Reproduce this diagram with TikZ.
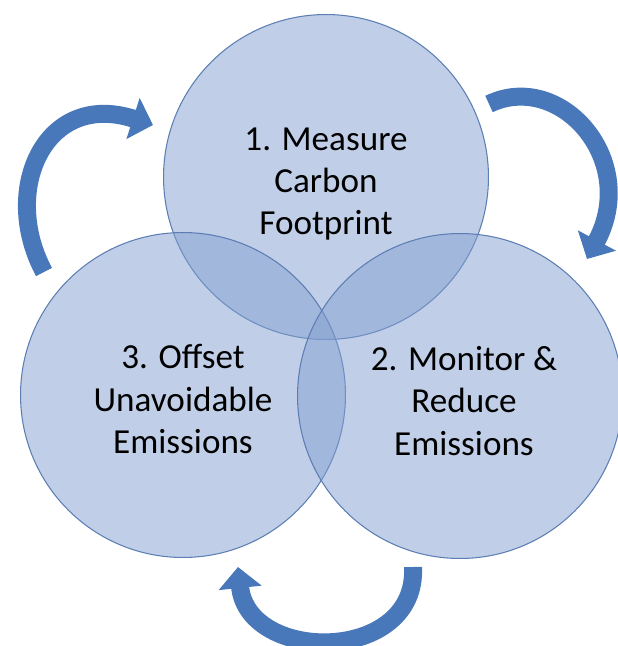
\documentclass[tikz,border=0pt]{standalone}
\usepackage{fontspec}
\setmainfont{Carlito}
\usetikzlibrary{arrows.meta}

\definecolor{ringfill}{RGB}{130,159,207}
\definecolor{ringline}{RGB}{92,126,180}
\definecolor{arrowblue}{RGB}{72,120,185}

\begin{document}
\begin{tikzpicture}[x=0.02cm, y=-0.02cm,
    ring/.style={circle, minimum size=6.5cm, inner sep=0pt,
        fill=ringfill, fill opacity=0.5, draw=ringline, line width=0.6pt},
    caption/.style={align=center, inner sep=0pt, font=\fontsize{20}{24}\selectfont},
    cyclearrow/.style={arrowblue, line width=0.36cm, line cap=butt,
        -{Triangle[length=0.42cm, width=0.84cm]}}]
    \useasboundingbox (0,0) rectangle (618,646);
    \node[ring] (measure) at (326,177) {};
    \node[ring] (offset)  at (183,395) {};
    \node[ring] (reduce)  at (460,396) {};
    \node[caption] (measuretxt) at ([yshift=-0.14cm]measure.center) {1. Measure\\Carbon\\Footprint};
    \node[caption] (offsettxt)  at ([yshift=-0.08cm]offset.center) {3. Offset\\Unavoidable\\Emissions};
    \node[caption] (reducetxt)  at ([xshift=0.08cm, yshift=-0.1cm]reduce.center) {2. Monitor \&\\Reduce\\Emissions};
    % bent arrows between the rings
    \coordinate (lt) at (44,272);
    \coordinate (lh) at (153,125);
    \coordinate (rt) at (489,104);
    \coordinate (rh) at (587,259);
    \coordinate (bt) at (413,567);
    \coordinate (bh) at (238,567);
    \draw[cyclearrow] (lt) .. controls (0,190) and (45,90) .. (lh);
    \draw[cyclearrow] (rt) .. controls (560,70) and (640,160) .. (rh);
    \draw[cyclearrow] (bt) .. controls (418,664) and (248,664) .. (bh);
\end{tikzpicture}
\end{document}
